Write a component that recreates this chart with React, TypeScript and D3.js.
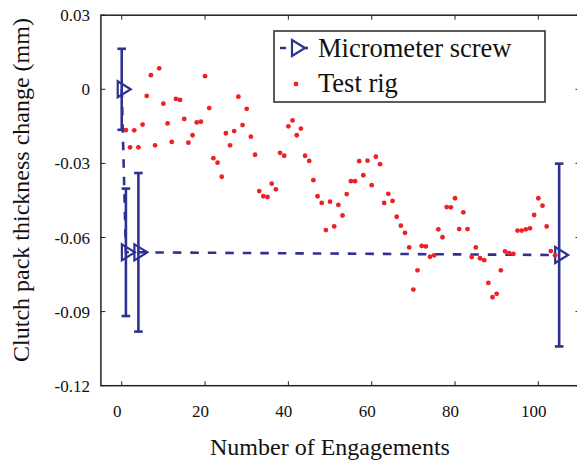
import React from 'react';
import * as d3 from 'd3';

const xTicks = [0, 20, 40, 60, 80, 100];
const yTicks = [0.03, 0, -0.03, -0.06, -0.09, -0.12];
const yTickLabels = ['0.03', '0', '-0.03', '-0.06', '-0.09', '-0.12'];

const micrometerX = [0, 1, 4, 105];
const micrometerY = [0, -0.066, -0.066, -0.0671];
const micrometerErr = [0.0164, 0.0258, 0.0321, 0.037];

const testRigX = [
  1, 2, 3, 4, 5, 6, 7, 8, 9, 10, 11, 12, 13, 14, 15, 16, 17, 18, 19, 20,
  21, 22, 23, 24, 25, 26, 27, 28, 29, 30, 31, 32, 33, 34, 35, 36, 37, 38, 39, 40,
  41, 42, 43, 44, 45, 46, 47, 48, 49, 50, 51, 52, 53, 54, 55, 56, 57, 58, 59, 60,
  61, 62, 63, 64, 65, 66, 67, 68, 69, 70, 71, 72, 73, 74, 75, 76, 77, 78, 79, 80,
  81, 82, 83, 84, 85, 86, 87, 88, 89, 90, 91, 92, 93, 94, 95, 96, 97, 98, 99, 100,
  101, 102, 103, 104,
];
const testRigY = [
  -0.0165, -0.0235, -0.0166, -0.0235, -0.0143, -0.0027, 0.0057, -0.0227, 0.0085, -0.0058,
  -0.0138, -0.0213, -0.0039, -0.0043, -0.012, -0.0216, -0.0186, -0.0134, -0.0131, 0.0053,
  -0.0076, -0.0279, -0.0297, -0.0354, -0.0178, -0.0227, -0.0169, -0.003, -0.0145, -0.0079,
  -0.0192, -0.0265, -0.0412, -0.0433, -0.0436, -0.0382, -0.0405, -0.0257, -0.0269, -0.015,
  -0.0126, -0.0186, -0.0159, -0.0269, -0.029, -0.0368, -0.0433, -0.046, -0.057, -0.0455,
  -0.0555, -0.0468, -0.0511, -0.0424, -0.0372, -0.0372, -0.0291, -0.0348, -0.0289, -0.0388,
  -0.0273, -0.0303, -0.046, -0.0423, -0.0452, -0.0516, -0.0552, -0.0581, -0.064, -0.0811,
  -0.0733, -0.0634, -0.0636, -0.0678, -0.0672, -0.0567, -0.0599, -0.0477, -0.0478, -0.0441,
  -0.0566, -0.0498, -0.0566, -0.0679, -0.064, -0.0684, -0.0692, -0.0784, -0.0842, -0.0828,
  -0.0733, -0.0656, -0.0663, -0.0666, -0.0572, -0.0572, -0.0567, -0.0563, -0.0509, -0.0441,
  -0.0471, -0.0555, -0.0655, -0.0672,
];

const seriesNames = ['Micrometer screw', 'Test rig'];
const xLabel = 'Number of Engagements';
const yLabel = 'Clutch pack thickness change (mm)';

const W = 577;
const H = 460;
const BLUE = '#2e3192';
const RED = '#ec2227';
const FONT = '"Liberation Serif", "Times New Roman", serif';

const x = d3.scaleLinear().domain([-5, 110]).range([100.9, 580]);
const y = d3.scaleLinear().domain([-0.12, 0.03]).range([385.7, 15.2]);

const tri = (cx: number, cy: number) =>
  `M${cx - 4},${cy - 8}L${cx + 9},${cy}L${cx - 4},${cy + 8}Z`;

export default function App() {
  const [x0, x1] = x.range();
  const [y0, y1] = y.range();
  const micLine = d3
    .line<number>()
    .x((_, i) => x(micrometerX[i]))
    .y((d) => y(d))(micrometerY) as string;

  return (
    <svg
      width={W}
      height={H}
      style={{ position: 'absolute', left: 0, top: 0, background: '#fff', fontFamily: FONT }}
    >
      {/* ticks */}
      {xTicks.map((t) => (
        <g key={'xt' + t}>
          <line x1={x(t)} x2={x(t)} y1={y0} y2={y0 - 4.5} stroke="#222" strokeWidth={1} />
          <line x1={x(t)} x2={x(t)} y1={y1} y2={y1 + 4.5} stroke="#222" strokeWidth={1} />
          <text x={x(t) - 4.5} y={417} fontSize={17} textAnchor="middle" fill="#111">
            {t}
          </text>
        </g>
      ))}
      {yTicks.map((t, i) => (
        <g key={'yt' + t}>
          <line x1={x0} x2={x0 + 4.5} y1={y(t)} y2={y(t)} stroke="#222" strokeWidth={1} />
          <line x1={x1} x2={x1 - 4.5} y1={y(t)} y2={y(t)} stroke="#222" strokeWidth={1} />
          <text x={90} y={y(t) + 6} fontSize={17} textAnchor="end" fill="#111">
            {yTickLabels[i]}
          </text>
        </g>
      ))}
      <rect
        x={x0}
        y={y1}
        width={x1 - x0}
        height={y0 - y1}
        fill="none"
        stroke="#222"
        strokeWidth={1.5}
      />

      {/* micrometer series */}
      <path d={micLine} fill="none" stroke={BLUE} strokeWidth={2.6} strokeDasharray="8.5,9" />
      {micrometerX.map((mx, i) => {
        const cx = x(mx);
        const top = y(micrometerY[i] + micrometerErr[i]);
        const bot = y(micrometerY[i] - micrometerErr[i]);
        return (
          <g key={'eb' + i} stroke={BLUE} strokeWidth={2.6} fill="none">
            <line x1={cx} x2={cx} y1={top} y2={bot} />
            <line x1={cx - 4.3} x2={cx + 4.3} y1={top} y2={top} />
            <line x1={cx - 4.3} x2={cx + 4.3} y1={bot} y2={bot} />
            <path d={tri(cx, y(micrometerY[i]))} strokeWidth={2.2} strokeLinejoin="miter" />
          </g>
        );
      })}

      {/* test rig series */}
      {testRigY.map((v, i) => (
        <circle key={'d' + i} cx={x(testRigX[i])} cy={y(v)} r={2.4} fill={RED} />
      ))}

      {/* legend */}
      <rect x={274} y={31} width={271} height={71} fill="#fff" stroke="#333" strokeWidth={1.6} />
      <line x1={280} x2={311} y1={48} y2={48} stroke={BLUE} strokeWidth={2.6} strokeDasharray="6,5" />
      <path d={tri(296, 48)} fill="#fff" stroke={BLUE} strokeWidth={2.2} />
      <text x={318} y={57} fontSize={26.5} fill="#111">
        {seriesNames[0]}
      </text>
      <circle cx={296} cy={84} r={2.4} fill={RED} />
      <text x={318} y={92} fontSize={26.5} fill="#111">
        {seriesNames[1]}
      </text>

      {/* axis labels */}
      <text x={330} y={455} fontSize={24} textAnchor="middle" fill="#111">
        {xLabel}
      </text>
      <text
        transform="translate(29,190) rotate(-90)"
        fontSize={24}
        textAnchor="middle"
        fill="#111"
      >
        {yLabel}
      </text>
    </svg>
  );
}
